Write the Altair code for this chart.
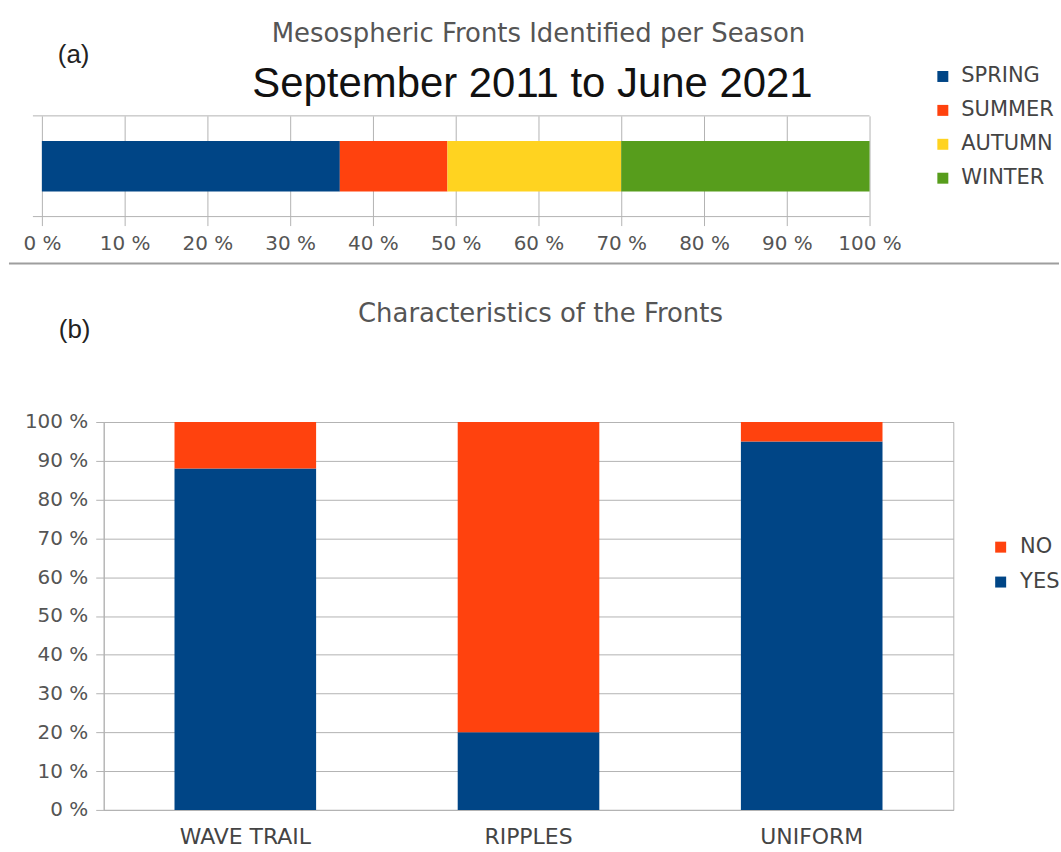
import altair as alt
import pandas as pd

# ---------------- data ----------------
seasons = ["SPRING", "SUMMER", "AUTUMN", "WINTER"]
season_pct = [36, 13, 21, 30]
season_colors = ["#004586", "#ff420e", "#ffd320", "#579d1c"]

fronts = ["WAVE TRAIL", "RIPPLES", "UNIFORM"]
yes_pct = [88, 20, 95]
no_pct = [12, 80, 5]
answers = ["NO", "YES"]
answer_colors = ["#ff420e", "#004586"]

pct_ticks = [0, 10, 20, 30, 40, 50, 60, 70, 80, 90, 100]

title_a = "Mesospheric Fronts Identified per Season"
subtitle_a = "September 2011 to June 2021"
title_b = "Characteristics of the Fronts"

# ---------------- styles ----------------
FONT = "DejaVu Sans"
SANS = "Liberation Sans"
GRID = "#b3b3b3"
TXT = "#555555"
LEG = "#444444"

# ---------------- panel (a) ----------------
df_a = pd.DataFrame({
    "season": seasons,
    "pct": season_pct,
    "order": list(range(len(seasons))),
    "row": ["all"] * len(seasons),
})

bars_a = alt.Chart(df_a).mark_bar().encode(
    x=alt.X(
        "pct:Q",
        stack="zero",
        scale=alt.Scale(domain=[0, 100], range=[-62, 768], nice=False),
        axis=alt.Axis(
            values=pct_ticks, labelExpr="datum.value + ' %'", title=None,
            grid=True, gridColor=GRID, domain=False, ticks=True, tickSize=9,
            tickColor=GRID, labelFont=FONT, labelFontSize=20, labelColor=TXT,
            labelPadding=8, labelFlush=False, labelOverlap=False,
        ),
    ),
    y=alt.Y("row:N", scale=alt.Scale(paddingInner=0, paddingOuter=0.5), axis=None),
    color=alt.Color(
        "season:N",
        scale=alt.Scale(domain=seasons, range=season_colors),
        legend=alt.Legend(
            orient="none", legendX=831, legendY=-50, title=None,
            symbolType="square", symbolSize=121, symbolStrokeWidth=0,
            labelFont=FONT, labelFontSize=21, labelColor=LEG,
            rowPadding=12, labelOffset=8, padding=0,
        ),
    ),
    order=alt.Order("order:Q"),
)

frame_df = pd.DataFrame({"start": [0], "end": [100]})
top_line = alt.Chart(frame_df).mark_rule(color=GRID, xOffset=-9).encode(
    x="start:Q", x2="end:Q", y=alt.value(0)
)
bottom_line = alt.Chart(frame_df).mark_rule(color=GRID, xOffset=-9).encode(
    x="start:Q", x2="end:Q", y=alt.value(101)
)

sep = alt.Chart(pd.DataFrame({"k": [0]})).mark_rule(color="#9e9e9e", strokeWidth=2).encode(
    x=alt.value(-95), x2=alt.value(958), y=alt.value(148)
)

t_a = alt.Chart(pd.DataFrame({"t": [title_a]})).mark_text(
    font=FONT, fontSize=26, color=TXT, align="center", baseline="alphabetic"
).encode(text="t:N", x=alt.value(436), y=alt.value(-74))

st_a = alt.Chart(pd.DataFrame({"t": [subtitle_a]})).mark_text(
    font=SANS, fontSize=42, color="#111111", align="center", baseline="alphabetic"
).encode(text="t:N", x=alt.value(430), y=alt.value(-19))

lab_a = alt.Chart(pd.DataFrame({"t": ["(a)"]})).mark_text(
    font=SANS, fontSize=26, color="#222222", align="left", baseline="alphabetic"
).encode(text="t:N", x=alt.value(-46), y=alt.value(-53))

panel_a = alt.layer(bars_a, top_line, bottom_line, sep, t_a, st_a, lab_a).properties(
    width=768, height=101
)

# ---------------- panel (b) ----------------
rows = []
for f, y, n in zip(fronts, yes_pct, no_pct):
    rows.append({"front": f, "answer": "YES", "pct": y, "order": 0})
    rows.append({"front": f, "answer": "NO", "pct": n, "order": 1})
df_b = pd.DataFrame(rows)

bars_b = alt.Chart(df_b).mark_bar().encode(
    x=alt.X(
        "front:N",
        sort=fronts,
        scale=alt.Scale(paddingInner=0.5, paddingOuter=0.25),
        axis=alt.Axis(
            title=None, labelAngle=0, labelFont=FONT, labelFontSize=22,
            labelColor=LEG, ticks=False, domain=True, domainColor=GRID,
            labelPadding=17, grid=False,
        ),
    ),
    y=alt.Y(
        "pct:Q",
        stack="zero",
        scale=alt.Scale(domain=[0, 100], nice=False),
        axis=alt.Axis(
            values=pct_ticks, labelExpr="datum.value + ' %'", title=None,
            grid=True, gridColor=GRID, domainColor=GRID, tickColor=GRID,
            tickSize=8, labelPadding=8, labelFont=FONT, labelFontSize=20,
            labelColor=TXT, labelOverlap=False,
        ),
    ),
    color=alt.Color(
        "answer:N",
        scale=alt.Scale(domain=answers, range=answer_colors),
        legend=alt.Legend(
            orient="none", legendX=889, legendY=115, title=None,
            symbolType="square", symbolSize=121, symbolStrokeWidth=0,
            labelFont=FONT, labelFontSize=21, labelColor=LEG,
            rowPadding=13, labelOffset=9, padding=0,
        ),
    ),
    order=alt.Order("order:Q"),
)

t_b = alt.Chart(pd.DataFrame({"t": [title_b]})).mark_text(
    font=FONT, fontSize=26, color=TXT, align="center", baseline="alphabetic"
).encode(text="t:N", x=alt.value(438), y=alt.value(-100))

lab_b = alt.Chart(pd.DataFrame({"t": ["(b)"]})).mark_text(
    font=SANS, fontSize=26, color="#222222", align="left", baseline="alphabetic"
).encode(text="t:N", x=alt.value(-45), y=alt.value(-84))

panel_b = alt.layer(bars_b, t_b, lab_b).properties(
    width=852, height=389,
    view=alt.ViewBackground(stroke=GRID, strokeWidth=1),
)

chart = alt.vconcat(panel_a, panel_b, spacing=36).resolve_scale(
    color="independent"
).properties(
    padding={"left": 8, "top": 20, "right": 0, "bottom": 0},
    background="white",
).configure_view(strokeWidth=0)

chart.save("out.html", embed_options={"renderer": "svg", "actions": False})
